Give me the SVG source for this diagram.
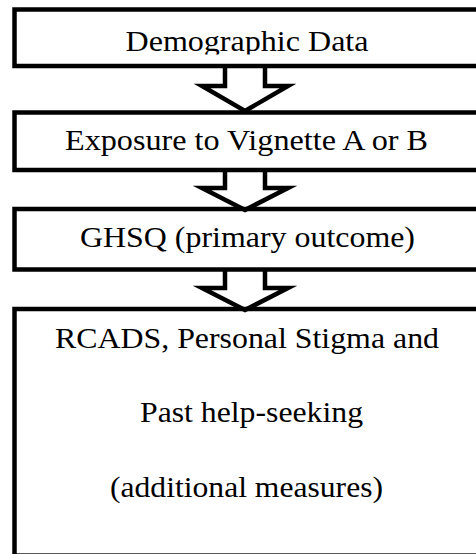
<svg xmlns="http://www.w3.org/2000/svg" width="476" height="554" viewBox="0 0 476 554">
<style>
.box{fill:none;stroke:#000;stroke-width:4.5;stroke-linejoin:miter}
.arr{fill:#fff;stroke:#000;stroke-width:4.5;stroke-linejoin:miter;stroke-miterlimit:10}
.lbl{font-family:'Liberation Serif','Times New Roman',serif;font-size:29px;fill:#000}
</style>
<defs>
<clipPath id="clip1"><rect x="0" y="0" width="476" height="54.5"/></clipPath>
</defs>
<rect x="0" y="0" width="476" height="554" fill="#fff"/>
<g id="connectors">
<polyline class="arr" points="225,66 225,86 202,86 245,111 288,86 265,86 265,66"/>
<polyline class="arr" points="225,170 225,188 202,188 245,210 288,188 265,188 265,170"/>
<polyline class="arr" points="225,269.5 225,288 202,288 245,310 288,288 265,288 265,269.5"/>
</g>
<g id="node-demographic">
<rect class="box" x="14.5" y="9.5" width="480" height="56.5"/>
<text class="lbl" x="247" y="50.7" text-anchor="middle" textLength="243" lengthAdjust="spacingAndGlyphs" clip-path="url(#clip1)">Demographic Data</text>
</g>
<g id="node-exposure">
<rect class="box" x="14.5" y="112.5" width="480" height="57.5"/>
<text class="lbl" x="246.5" y="149.5" text-anchor="middle" textLength="363" lengthAdjust="spacingAndGlyphs">Exposure to Vignette A or B</text>
</g>
<g id="node-ghsq">
<rect class="box" x="14.5" y="209" width="480" height="60.5"/>
<text class="lbl" x="247.5" y="246.7" text-anchor="middle" textLength="335" lengthAdjust="spacingAndGlyphs">GHSQ (primary outcome)</text>
</g>
<g id="node-additional">
<rect class="box" x="14.5" y="309" width="480" height="246.6"/>
<text class="lbl" x="247" y="348.3" text-anchor="middle" textLength="384" lengthAdjust="spacingAndGlyphs">RCADS, Personal Stigma and</text>
<text class="lbl" x="251.5" y="422" text-anchor="middle" textLength="223" lengthAdjust="spacingAndGlyphs">Past help-seeking</text>
<text class="lbl" x="246.5" y="497.3" text-anchor="middle" textLength="273" lengthAdjust="spacingAndGlyphs">(additional measures)</text>
</g>
</svg>
